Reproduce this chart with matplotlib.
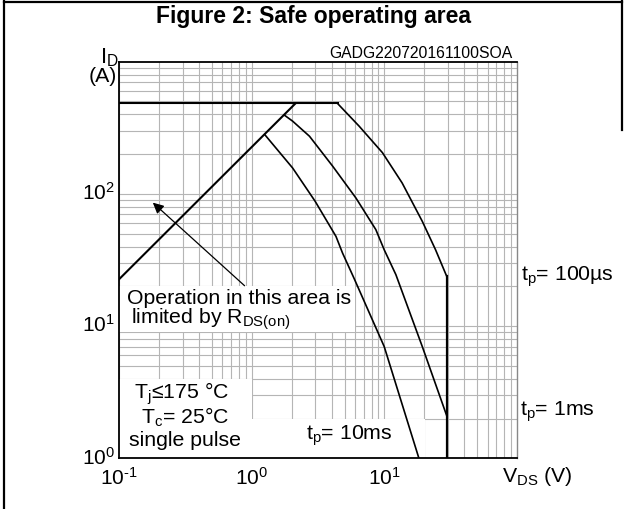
import matplotlib
matplotlib.use("Agg")
import matplotlib.pyplot as plt
from matplotlib.patches import Rectangle
from matplotlib.lines import Line2D
from matplotlib.transforms import ScaledTranslation

plt.rcParams['font.family'] = ['Liberation Sans', 'DejaVu Sans']
plt.rcParams['mathtext.fontset'] = 'custom'
plt.rcParams['mathtext.rm'] = 'Liberation Sans'
plt.rcParams['mathtext.it'] = 'Liberation Sans:italic'
plt.rcParams['mathtext.bf'] = 'Liberation Sans:bold'
plt.rcParams['axes.unicode_minus'] = False

# ---- data ----
rds_v = [0.1, 2.13]
rds_i = [22.7, 483]
limit_v = [0.1, 4.43]
limit_i = [483, 483]
t100_v = [4.43, 6.45, 9.66, 13.6, 19.3, 24.3, 29.5]
t100_i = [483, 325, 205, 121, 62, 37.8, 23.8]
vdss_v = [29.5, 29.5]
vdss_i = [23.8, 1.0]
t1_v = [1.76, 2.03, 2.72, 4.07, 6.1, 8.61, 9.96, 12.2, 19.3, 29.5]
t1_i = [394, 355, 273, 162, 93, 53.7, 37.8, 24.5, 7.0, 2.1]
t10_v = [1.25, 2.03, 3.0, 4.31, 4.83, 5.92, 9.96, 18.2]
t10_i = [281, 157, 88, 47.7, 35.7, 22.8, 7.0, 1.0]
arrow_tail = (0.881, 20.2)
arrow_head = (0.179, 85.9)

xticks = [0.1, 1, 10]
xticklabels = [r'$\mathregular{10^{\text{-}1}}$', r'$\mathregular{10^{0}}$', r'$\mathregular{10^{1}}$']
yticks = [1, 10, 100]
yticklabels = [r'$\mathregular{10^{0}}$', r'$\mathregular{10^{1}}$', r'$\mathregular{10^{2}}$']

W, H = 627, 509
fig = plt.figure(figsize=(W / 100, H / 100), dpi=100)
L, R, T, B = 119.3, 517.0, 61.7, 458.3
ax = fig.add_axes([L / W, 1 - B / H, (R - L) / W, (B - T) / H])
ax.set_xscale('log')
ax.set_yscale('log')
ax.set_xlim(0.1, 100)
ax.set_ylim(1, 1000)

gridc = '#b5b5b5'
ax.set_axisbelow(True)
ax.grid(True, which='both', color=gridc, linewidth=0.8)
ax.tick_params(which='both', length=0)
ax.set_xticks(xticks)
ax.set_xticklabels(xticklabels, fontsize=15)
ax.set_yticks(yticks)
ax.set_yticklabels(yticklabels, fontsize=15)
ax.tick_params(axis='x', pad=6)
ax.tick_params(axis='y', pad=3)
for lab in ax.get_yticklabels():
    lab.set_transform(lab.get_transform() + ScaledTranslation(0, 2 / 72, fig.dpi_scale_trans))

for s in ['left', 'bottom', 'top']:
    ax.spines[s].set_linewidth(1.3)
    ax.spines[s].set_color('black')
ax.spines['right'].set_color('#888888')
ax.spines['right'].set_linewidth(1.0)

# white label backgrounds
def box(x0, x1, y0, y1):
    ax.add_patch(Rectangle(((x0 - L) / (R - L), (B - y1) / (B - T)),
                           (x1 - x0) / (R - L), (y1 - y0) / (B - T),
                           transform=ax.transAxes, facecolor='white',
                           edgecolor='none', zorder=1))

box(L, 355, 286, 332)
box(L, 252.5, 379, B)
box(252.5, 425, 419, B)

lk = dict(color='black', zorder=3, solid_joinstyle='miter')
ax.plot(rds_v, rds_i, lw=1.5, **lk)
ax.plot(limit_v, limit_i, lw=1.5, **lk)
ax.plot(t100_v, t100_i, lw=1.2, **lk)
ax.plot(vdss_v, vdss_i, lw=1.6, **lk)
ax.plot(t1_v, t1_i, lw=1.2, **lk)
ax.plot(t10_v, t10_i, lw=1.2, **lk)

ax.annotate('', xy=arrow_head, xytext=arrow_tail,
            arrowprops=dict(arrowstyle='-|>', color='black', lw=0.9,
                            mutation_scale=16, shrinkA=0, shrinkB=0),
            zorder=4)

fs = 15.3
def ptext(x, y, s, **kw):
    fig.text(x / W, 1 - y / H, s, **kw)

ptext(313, 16, 'Figure 2: Safe operating area', fontsize=16.5,
      fontweight='bold', ha='center', va='center')
ptext(513, 54, 'GADG220720161100SOA', fontsize=11.3, ha='right', va='center')
ptext(100, 63, r'$\mathregular{I_{D}}$', fontsize=16, ha='left', va='baseline')
ptext(117, 77, '(A)', fontsize=fs, ha='right', va='center')
ptext(537, 477, r'V$_{\mathregular{DS}}$ (V)', fontsize=fs, ha='center', va='center')

ptext(127, 298, 'Operation in this area is', fontsize=fs, ha='left', va='center')
ptext(131, 319, r'limited by R$_{\mathregular{DS(on)}}$', fontsize=fs, ha='left', va='center')

ptext(182, 394, 'T$_{\\mathregular{j}}$≤175 °C', fontsize=fs, ha='center', va='center')
ptext(185, 417, 'T$_{\\mathregular{c}}$= 25°C', fontsize=fs, ha='center', va='center')
ptext(185, 440, 'single pulse', fontsize=fs, ha='center', va='center')

ptext(521, 277, r't$_{\mathregular{p}}$= 100µs', fontsize=fs, ha='left', va='center')
ptext(520, 412, r't$_{\mathregular{p}}$= 1ms', fontsize=fs, ha='left', va='center')
ptext(306, 436, r't$_{\mathregular{p}}$= 10ms', fontsize=fs, ha='left', va='center')

# outer frame
fig.add_artist(Line2D([4 / W, 4 / W], [0, 1 - 1 / H], color='black', lw=1.6,
                      transform=fig.transFigure))
fig.add_artist(Line2D([4 / W, 622 / W], [1 - 1.5 / H, 1 - 1.5 / H], color='black', lw=1.6,
                      transform=fig.transFigure))
fig.add_artist(Line2D([622 / W, 622 / W], [1 - 1 / H, 1 - 130 / H], color='black', lw=1.6,
                      transform=fig.transFigure))

fig.savefig('out.png', dpi=100)
